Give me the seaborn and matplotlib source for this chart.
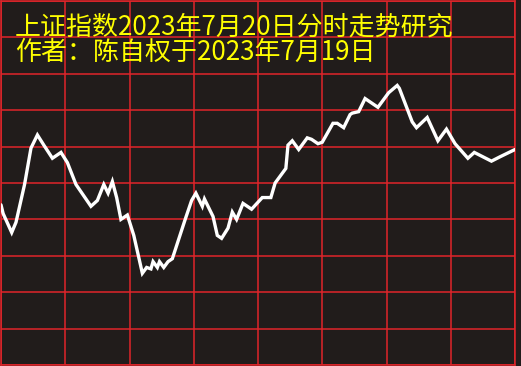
import numpy as np
import pandas as pd
import matplotlib
matplotlib.use("Agg")
import matplotlib.pyplot as plt
import seaborn as sns

# ---- data (minutes from open, % change from previous close) ----
minutes = [0, 1, 5, 7, 11, 14, 17, 20, 24, 28, 31, 35, 42, 45, 48, 50, 52, 54, 56, 59,
           62, 66, 68, 70, 71, 73, 74, 76, 78, 80, 84, 86, 89, 91, 94, 95, 99, 101, 103, 106,
           108, 110, 113, 117, 122, 126, 128, 133, 134, 136, 139, 143, 145, 148, 150, 155, 157, 160, 163, 164,
           167, 170, 176, 181, 185, 186, 192, 194, 199, 204, 208, 212, 218, 221, 229, 233, 240]
pct = [-0.15, -0.21, -0.34, -0.27, -0.01, 0.24, 0.33, 0.26, 0.17, 0.21, 0.14, -0.01, -0.16, -0.12, -0.01, -0.07, 0.01, -0.10, -0.25, -0.22,
       -0.36, -0.62, -0.58, -0.59, -0.54, -0.58, -0.54, -0.58, -0.54, -0.52, -0.34, -0.25, -0.12, -0.07, -0.16, -0.11, -0.23, -0.36, -0.38, -0.31,
       -0.20, -0.25, -0.14, -0.18, -0.10, -0.10, 0.00, 0.10, 0.26, 0.29, 0.23, 0.31, 0.30, 0.27, 0.28, 0.41, 0.41, 0.38, 0.47, 0.48,
       0.49, 0.58, 0.52, 0.62, 0.67, 0.65, 0.42, 0.38, 0.45, 0.29, 0.37, 0.27, 0.17, 0.21, 0.15, 0.18, 0.23]

title_line1 = "上证指数2023年7月20日分时走势研究"
title_line2 = "作者：陈自权于2023年7月19日"

x_ticks = list(range(0, 241, 30))
y_ticks = [-1.25, -1.0, -0.75, -0.5, -0.25, 0.0, 0.25, 0.5, 0.75, 1.0, 1.25]

BG = "#211c1b"
GRID = "#e0252a"

sns.set_style("dark")
plt.rcParams['font.family'] = ['Noto Sans CJK SC', 'DejaVu Sans']

W, H = 521, 366
fig = plt.figure(figsize=(W / 100, H / 100), dpi=100, facecolor=BG)
ax = fig.add_axes([1 / W, 1 / H, 514 / W, 364 / H])
ax.set_facecolor(BG)

df = pd.DataFrame({"minute": minutes, "pct": pct})
sns.lineplot(data=df, x="minute", y="pct", ax=ax, color="white", linewidth=2.4,
             solid_joinstyle="miter", zorder=3)

ax.set_xlim(0, 240)
ax.set_ylim(-1.25, 1.25)
ax.set_xticks(x_ticks)
ax.set_yticks(y_ticks)
ax.tick_params(length=0, labelbottom=False, labelleft=False)
ax.set_xlabel("")
ax.set_ylabel("")
ax.grid(True, color=GRID, linewidth=1.1)
for s in ax.spines.values():
    s.set_visible(True)
    s.set_color(GRID)
    s.set_linewidth(1.1)

fig.text(15 / W, 1 - 27 / H, title_line1, color="#ffff00", fontsize=18.7,
         ha="left", va="center")
fig.text(15 / W, 1 - 52 / H, title_line2, color="#ffff00", fontsize=18.7,
         ha="left", va="center")

fig.savefig("out.png", dpi=100, facecolor=BG)
